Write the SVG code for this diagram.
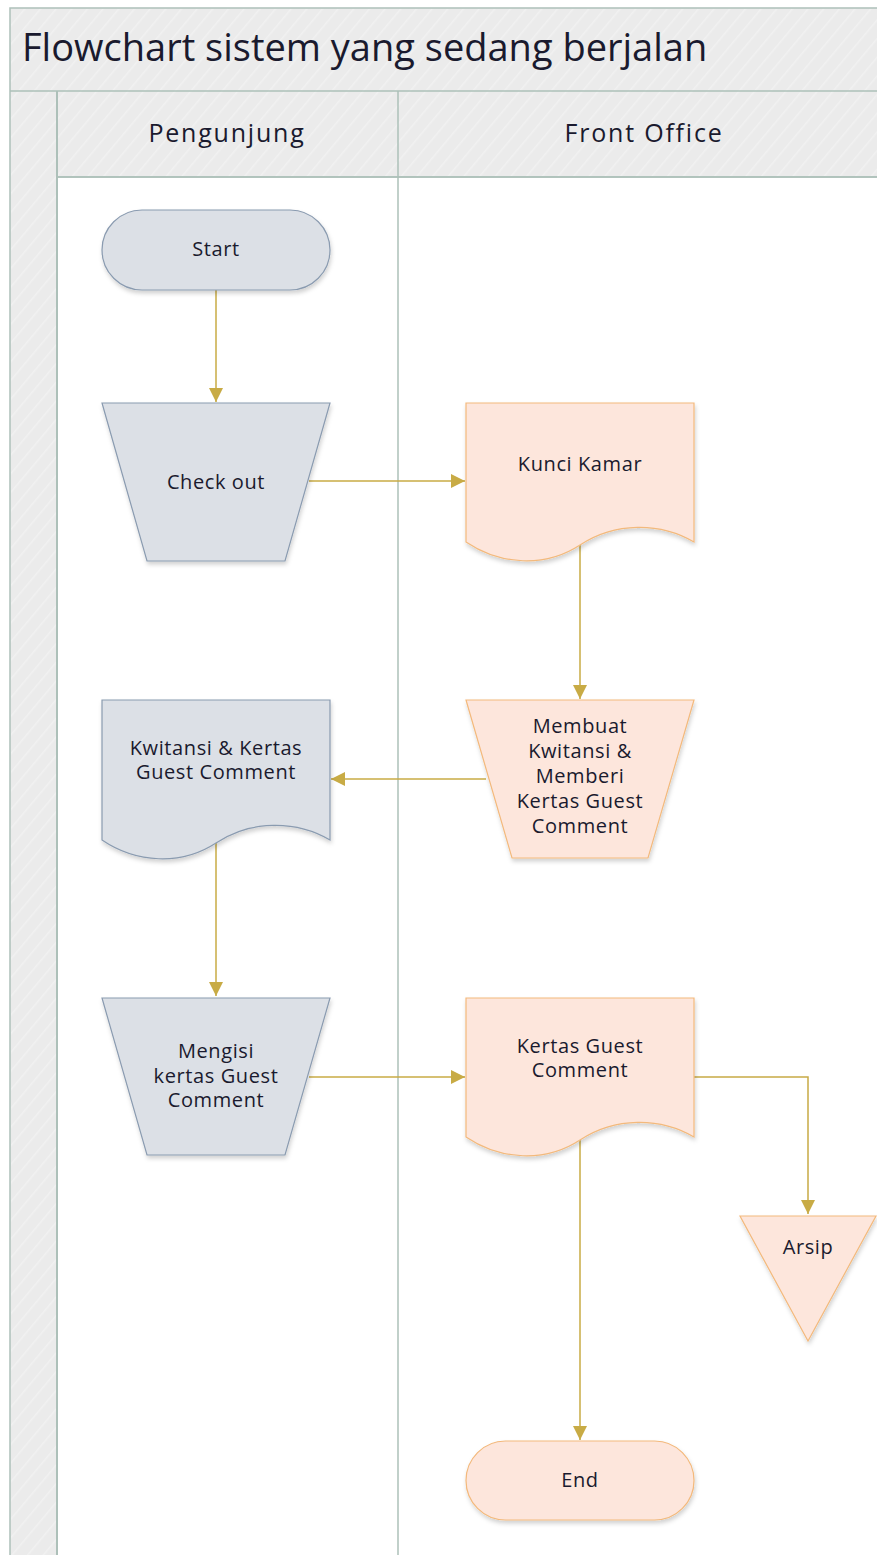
<svg xmlns="http://www.w3.org/2000/svg" width="877" height="1555" viewBox="0 0 877 1555">
<style>
  .frame { fill: #ececec; stroke: #adc0b9; stroke-width: 1.5; }
  .hatch { fill: url(#hatch); stroke: none; }
  .lane { fill: #ffffff; stroke: #adc0b9; stroke-width: 1.5; }
  .gray { fill: #dce0e6; stroke: #8a9bb0; stroke-width: 1.2; filter: url(#sh); }
  .peach { fill: #fde6dc; stroke: #f3b97c; stroke-width: 1.2; filter: url(#sh); }
  .conn { fill: none; stroke: #c8ab45; stroke-width: 1.5; }
  .t { font-family: "Open Sans", "Noto Sans", sans-serif; fill: #1a1a2e; text-anchor: middle; }
  .n { font-size: 20px; letter-spacing: 0.6px; }
  .h { font-size: 25px; letter-spacing: 1.8px; }
  .title { font-size: 38px; text-anchor: start; }
</style>
<defs>
  <pattern id="hatch" width="12" height="12" patternUnits="userSpaceOnUse" patternTransform="rotate(40)">
    <rect width="12" height="12" fill="#ebebeb"/>
    <line x1="0" y1="0" x2="0" y2="12" stroke="#f1f1f1" stroke-width="3"/>
  </pattern>
  <filter id="sh" x="-10%" y="-10%" width="130%" height="130%">
    <feDropShadow dx="1" dy="3" stdDeviation="2" flood-color="#000" flood-opacity="0.18"/>
  </filter>
  <marker id="arrL" viewBox="0 0 14 14" refX="14" refY="7" markerWidth="14" markerHeight="14" markerUnits="userSpaceOnUse" orient="auto">
    <path d="M0,0 L14,7 L0,14 z" fill="#c8ab45"/>
  </marker>
</defs>

<g id="pool">
  <rect class="frame" x="10" y="8" width="880" height="1560"/>
  <rect class="hatch" x="11" y="9" width="878" height="82"/>
  <rect class="hatch" x="11" y="91" width="46" height="1470"/>
  <rect class="hatch" x="57" y="91" width="833" height="86"/>
  <line x1="10" y1="91" x2="890" y2="91" stroke="#adc0b9" stroke-width="1.5"/>
  <rect class="lane" x="57" y="177" width="833" height="1390"/>
  <line x1="57" y1="91" x2="57" y2="1560" stroke="#adc0b9" stroke-width="2"/>
  <line x1="57" y1="177" x2="890" y2="177" stroke="#adc0b9" stroke-width="1.5"/>
  <line x1="398" y1="91" x2="398" y2="1560" stroke="#adc0b9" stroke-width="1.5"/>
  <text class="t title" x="22" y="61">Flowchart sistem yang sedang berjalan</text>
  <text class="t h" x="227" y="142">Pengunjung</text>
  <text class="t h" x="644" y="142">Front Office</text>
</g>

<g id="connectors">
  <line class="conn" x1="216" y1="290" x2="216" y2="402" marker-end="url(#arrL)"/>
  <line class="conn" x1="309" y1="481" x2="465" y2="481" marker-end="url(#arrL)"/>
  <line class="conn" x1="580" y1="545" x2="580" y2="699" marker-end="url(#arrL)"/>
  <line class="conn" x1="486" y1="779" x2="331" y2="779" marker-end="url(#arrL)"/>
  <line class="conn" x1="216" y1="843" x2="216" y2="996" marker-end="url(#arrL)"/>
  <line class="conn" x1="309" y1="1077" x2="465" y2="1077" marker-end="url(#arrL)"/>
  <polyline class="conn" points="694,1077 808,1077 808,1214" marker-end="url(#arrL)"/>
  <line class="conn" x1="580" y1="1140" x2="580" y2="1440" marker-end="url(#arrL)"/>
</g>

<g id="start">
  <rect class="gray" x="102" y="210" width="228" height="80" rx="40" ry="40"/>
  <text class="t n" x="216" y="256">Start</text>
</g>

<g id="checkout">
  <polygon class="gray" points="102,403 330,403 285,561 147,561"/>
  <text class="t n" x="216" y="489">Check out</text>
</g>

<g id="kunci">
  <path class="peach" d="M466,403 H694 V542 C660,522 615,522 580,545 C545,568 500,565 466,542 Z"/>
  <text class="t n" x="580" y="471">Kunci Kamar</text>
</g>

<g id="membuat">
  <polygon class="peach" points="466,700 694,700 648,858 512,858"/>
  <text class="t n" x="580" y="733">Membuat</text>
  <text class="t n" x="580" y="758">Kwitansi &amp;</text>
  <text class="t n" x="580" y="783">Memberi</text>
  <text class="t n" x="580" y="808">Kertas Guest</text>
  <text class="t n" x="580" y="833">Comment</text>
</g>

<g id="kwitansi">
  <path class="gray" d="M102,700 H330 V840 C296,820 251,820 216,843 C181,866 136,863 102,840 Z"/>
  <text class="t n" x="216" y="755">Kwitansi &amp; Kertas</text>
  <text class="t n" x="216" y="779">Guest Comment</text>
</g>

<g id="mengisi">
  <polygon class="gray" points="102,998 330,998 285,1155 147,1155"/>
  <text class="t n" x="216" y="1058">Mengisi</text>
  <text class="t n" x="216" y="1083">kertas Guest</text>
  <text class="t n" x="216" y="1107">Comment</text>
</g>

<g id="kertas">
  <path class="peach" d="M466,998 H694 V1137 C660,1117 615,1117 580,1140 C545,1163 500,1160 466,1137 Z"/>
  <text class="t n" x="580" y="1053">Kertas Guest</text>
  <text class="t n" x="580" y="1077">Comment</text>
</g>

<g id="arsip">
  <polygon class="peach" points="740,1216 876,1216 808,1341"/>
  <text class="t n" x="808" y="1254">Arsip</text>
</g>

<g id="end">
  <rect class="peach" x="466" y="1441" width="228" height="79" rx="39.5" ry="39.5"/>
  <text class="t n" x="580" y="1487">End</text>
</g>
</svg>
